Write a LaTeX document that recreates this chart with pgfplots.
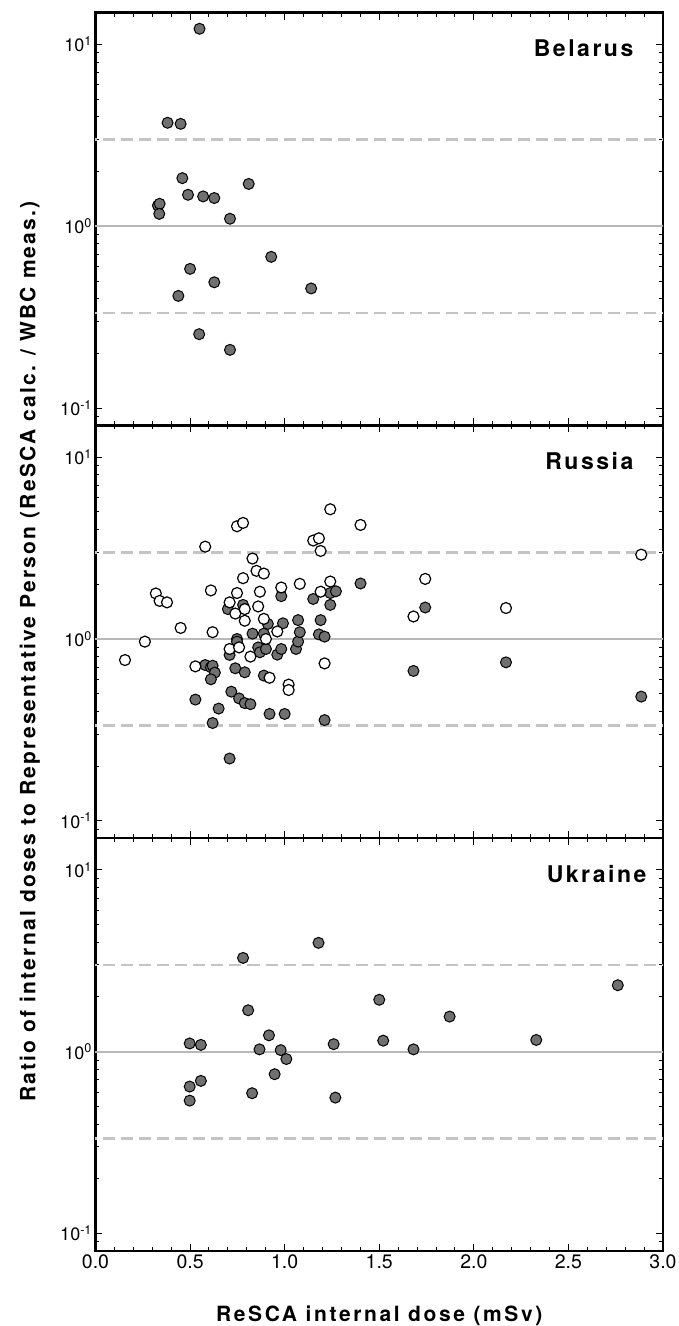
\documentclass[border=0pt]{standalone}
\usepackage{pgfplots}
\pgfplotsset{compat=1.18}
\usepackage{pgfplotstable}
\usepackage{fontspec}
\setmainfont{TeX Gyre Heros}
\newfontfamily\spaced[LetterSpace=11]{TeX Gyre Heros}
\newfontfamily\yspaced[LetterSpace=10.5]{TeX Gyre Heros}
\newfontfamily\xspaced[LetterSpace=12.5]{TeX Gyre Heros}
\definecolor{ptfill}{HTML}{707070}
\definecolor{refline}{HTML}{B8B8B8}
\definecolor{dashline}{HTML}{C4C4C4}

\pgfplotstableread{
x y
0.550 12.2
0.381 3.71
0.450 3.66
0.459 1.84
0.810 1.71
0.489 1.49
0.569 1.46
0.628 1.43
0.330 1.30
0.339 1.33
0.337 1.17
0.711 1.10
0.929 0.679
0.500 0.583
0.628 0.492
1.140 0.455
0.438 0.414
0.548 0.255
0.711 0.209
}\belarus

\pgfplotstableread{
x y
0.528 0.464
0.580 0.719
0.610 0.699
0.619 0.713
0.631 0.653
0.610 0.600
0.619 0.345
0.651 0.414
0.700 1.46
0.709 0.817
0.718 0.513
0.709 0.220
0.739 0.690
0.748 1.00
0.748 0.967
0.759 0.471
0.780 1.54
0.789 0.656
0.789 0.444
0.819 0.438
0.830 1.07
0.860 0.899
0.869 0.845
0.890 1.07
0.901 0.881
0.890 0.629
0.911 1.21
0.920 0.387
0.961 0.820
0.982 1.72
0.982 0.881
0.991 1.22
1.000 0.387
1.060 0.881
1.071 1.27
1.071 0.967
1.080 1.09
1.151 1.66
1.181 1.06
1.190 1.27
1.211 1.03
1.211 0.358
1.241 1.54
1.241 1.79
1.271 1.83
1.401 2.02
1.681 0.667
1.743 1.49
2.170 0.744
2.885 0.482
}\russiafilled

\pgfplotstableread{
x y
0.156 0.766
0.261 0.967
0.319 1.78
0.339 1.62
0.378 1.59
0.450 1.15
0.528 0.707
0.580 3.22
0.610 1.85
0.619 1.09
0.709 0.881
0.709 1.59
0.739 1.38
0.748 4.17
0.780 4.35
0.748 1.79
0.759 0.899
0.780 2.16
0.789 1.46
0.789 1.26
0.819 0.800
0.830 2.77
0.851 2.37
0.860 1.51
0.869 1.82
0.890 2.29
0.890 1.29
0.901 1.00
0.920 0.612
0.961 1.10
0.982 1.92
1.021 0.561
1.021 0.524
1.080 2.01
1.151 3.48
1.181 3.58
1.190 3.05
1.190 1.82
1.211 0.734
1.241 5.17
1.241 2.07
1.401 4.24
1.681 1.33
1.743 2.14
2.170 1.48
2.885 2.91
}\russiaopen

\pgfplotstableread{
x y
1.179 3.97
0.780 3.28
2.761 2.32
1.500 1.93
0.807 1.69
1.872 1.56
0.917 1.23
0.498 1.11
0.557 1.09
1.259 1.10
1.521 1.15
2.330 1.16
0.867 1.03
0.979 1.02
1.681 1.03
1.009 0.911
0.947 0.752
0.557 0.691
0.498 0.643
0.828 0.591
1.268 0.559
0.498 0.538
}\ukraine

\pgfplotsset{
  /pgfplots/rescapanel/.style={
    width=567.5pt, height=412.7pt, scale only axis,
    xmin=0, xmax=3, ymin=0.0803, ymax=14.96,
    xtick={0,0.5,1,1.5,2,2.5,3},
    minor x tick num=4,
    ytick={0.1,1,10},
    yticklabels={10\textsuperscript{-1},10\textsuperscript{0},10\textsuperscript{1}},
    minor ytick={0.09,0.2,0.3,0.4,0.5,0.6,0.7,0.8,0.9,2,3,4,5,6,7,8,9},
    xtick pos=both, ytick pos=both,
    tick align=inside,
    major tick length=7pt, minor tick length=4pt,
    every tick/.style={black, line width=1pt},
    axis line style={line width=2.5pt},
    yticklabel style={font=\fontsize{18}{18}\selectfont},
    xticklabel style={font=\fontsize{19.5}{19.5}\selectfont},
    clip=false,
  },
  /pgfplots/filledpt/.style={only marks, mark=*, mark size=5.5pt,
    mark options={fill=ptfill, draw=black, line width=1pt}},
  /pgfplots/openpt/.style={only marks, mark=*, mark size=5.5pt,
    mark options={fill=white, draw=black, line width=1.2pt}},
}

\newcommand{\refs}{%
  \addplot[refline, line width=2pt] coordinates {(0,1) (3,1)};
  \addplot[dashline, line width=2.5pt, dash pattern=on 12pt off 6pt, dash phase=-8pt] coordinates {(0,3) (3,3)};
  \addplot[dashline, line width=2.5pt, dash pattern=on 12pt off 6pt, dash phase=-8pt] coordinates {(0,0.3333) (3,0.3333)};
}

\begin{document}
\begin{tikzpicture}
% Ukraine (bottom)
\begin{semilogyaxis}[rescapanel, at={(0pt,0pt)},
  xticklabels={0.0,0.5,1.0,1.5,2.0,2.5,3.0}]
\refs
\addplot[filledpt] table[x=x,y=y] {\ukraine};
\node[anchor=base east, font=\fontsize{23}{23}\spaced\bfseries] at (rel axis cs:0.977,0.893) {Ukraine};
\end{semilogyaxis}
% Russia (middle)
\begin{semilogyaxis}[rescapanel, at={(0pt,412.7pt)}, xticklabel=\empty]
\refs
\addplot[filledpt] table[x=x,y=y] {\russiafilled};
\addplot[openpt] table[x=x,y=y] {\russiaopen};
\node[anchor=base east, font=\fontsize{23}{23}\spaced\bfseries] at (rel axis cs:0.954,0.893) {Russia};
\end{semilogyaxis}
% Belarus (top)
\begin{semilogyaxis}[rescapanel, at={(0pt,825.4pt)}, xticklabel=\empty]
\refs
\addplot[filledpt] table[x=x,y=y] {\belarus};
\node[anchor=base east, font=\fontsize{23}{23}\spaced\bfseries] at (rel axis cs:0.954,0.893) {Belarus};
\end{semilogyaxis}
\node[rotate=90, anchor=base, font=\fontsize{21}{21}\yspaced\bfseries] at (-60pt,599.3pt) {Ratio of internal doses to Representative Person (ReSCA calc. / WBC meas.)};
\node[anchor=base, font=\fontsize{21}{21}\xspaced\bfseries] at (283.75pt,-70.9pt) {ReSCA internal dose (mSv)};
\pgfresetboundingbox
\path (-95.5pt,-75.2pt) rectangle (582.5pt,1250.8pt);
\end{tikzpicture}
\end{document}
